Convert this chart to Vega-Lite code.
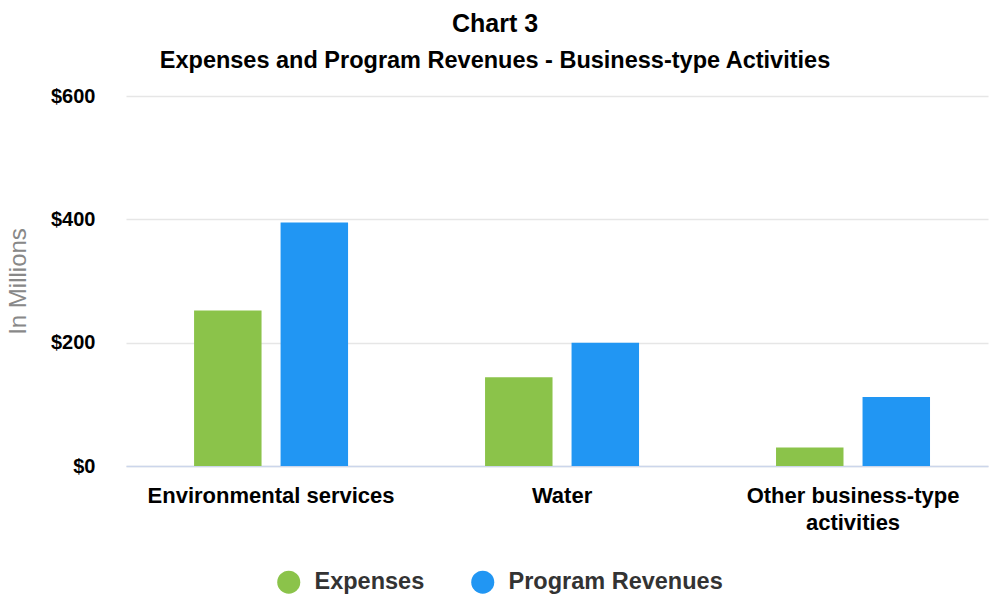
{
  "$schema": "https://vega.github.io/schema/vega-lite/v6.json",
  "autosize": {"type": "none"},
  "width": 862,
  "height": 370,
  "padding": {"left": 126, "top": 96, "right": 1, "bottom": 141},
  "background": "white",
  "config": {
    "font": "Liberation Sans",
    "view": {"stroke": null}
  },
  "title": {
    "text": "Chart 3",
    "subtitle": "Expenses and Program Revenues - Business-type Activities",
    "anchor": "middle",
    "dx": -62,
    "offset": 14,
    "fontSize": 25,
    "fontWeight": "bold",
    "color": "#000000",
    "subtitleFontSize": 23.5,
    "subtitleFontWeight": "bold",
    "subtitleColor": "#000000",
    "subtitlePadding": 12
  },
  "data": {
    "values": [
      {"category": "Environmental services", "series": "Expenses", "value": 252},
      {"category": "Environmental services", "series": "Program Revenues", "value": 395},
      {"category": "Water", "series": "Expenses", "value": 144},
      {"category": "Water", "series": "Program Revenues", "value": 200},
      {"category": "Other business-type activities", "series": "Expenses", "value": 30},
      {"category": "Other business-type activities", "series": "Program Revenues", "value": 112}
    ]
  },
  "mark": {"type": "bar"},
  "encoding": {
    "x": {
      "field": "category",
      "type": "nominal",
      "sort": ["Environmental services", "Water", "Other business-type activities"],
      "scale": {"paddingInner": 0.4708, "paddingOuter": 0.2166, "align": 0.54},
      "axis": {
        "title": null,
        "labelAngle": 0,
        "labelFontSize": 22,
        "labelFontWeight": "bold",
        "labelColor": "#000000",
        "labelPadding": 19,
        "labelLineHeight": 27,
        "labelLimit": 500,
        "labelExpr": "datum.label == 'Other business-type activities' ? ['Other business-type', 'activities'] : datum.label",
        "ticks": false,
        "domainColor": "#ccd6eb",
        "domainWidth": 1.5,
        "grid": false
      }
    },
    "xOffset": {
      "field": "series",
      "type": "nominal",
      "sort": ["Expenses", "Program Revenues"],
      "scale": {"paddingInner": 0.22, "paddingOuter": 0}
    },
    "y": {
      "field": "value",
      "type": "quantitative",
      "scale": {"domain": [0, 600], "nice": false},
      "axis": {
        "title": "In Millions",
        "titleFontSize": 24,
        "titleFontWeight": "normal",
        "titleColor": "#888888",
        "titlePadding": 20,
        "values": [0, 200, 400, 600],
        "format": "$,.0f",
        "labelFontSize": 20,
        "labelFontWeight": "bold",
        "labelColor": "#000000",
        "labelPadding": 31,
        "ticks": false,
        "domain": false,
        "gridColor": "#e6e6e6",
        "gridWidth": 1.5
      }
    },
    "color": {
      "field": "series",
      "type": "nominal",
      "sort": ["Expenses", "Program Revenues"],
      "scale": {"domain": ["Expenses", "Program Revenues"], "range": ["#8bc34a", "#2196f3"]},
      "legend": {
        "title": null,
        "orient": "none",
        "direction": "horizontal",
        "legendX": 151,
        "legendY": 474,
        "symbolType": "circle",
        "symbolSize": 529,
        "symbolStrokeWidth": 0,
        "labelFontSize": 23.5,
        "labelFontWeight": "bold",
        "labelColor": "#333333",
        "labelOffset": 14,
        "columnPadding": 46,
        "labelLimit": 400
      }
    }
  }
}
